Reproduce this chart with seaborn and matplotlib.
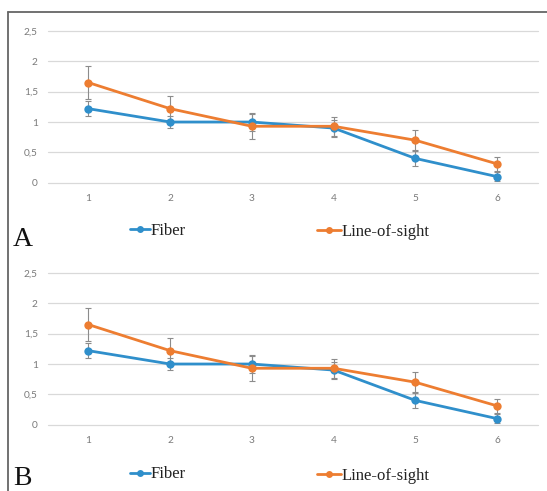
import matplotlib
matplotlib.use("Agg")
import matplotlib.pyplot as plt
from matplotlib.lines import Line2D
import seaborn as sns
import pandas as pd

# ---- data ----
positions = [1, 2, 3, 4, 5, 6]
fiber = [1.22, 1.00, 1.00, 0.90, 0.40, 0.10]
fiber_err = [0.125, 0.10, 0.15, 0.14, 0.13, 0.08]
los = [1.65, 1.22, 0.93, 0.93, 0.70, 0.31]
los_err = [0.27, 0.21, 0.21, 0.16, 0.165, 0.12]
series_names = ["Fiber", "Line-of-sight"]
ytick_vals = [0, 0.5, 1, 1.5, 2, 2.5]
ytick_labels = ["0", "0,5", "1", "1,5", "2", "2,5"]
panel_labels = ["A", "B"]

colors = {"Fiber": "#2F8FCB", "Line-of-sight": "#ED7D31"}

df = pd.DataFrame({
    "x": positions * 2,
    "value": fiber + los,
    "series": [series_names[0]] * len(positions) + [series_names[1]] * len(positions),
})
errs = {"Fiber": fiber_err, "Line-of-sight": los_err}

sns.set_style("white")
W, H = 547, 491
fig = plt.figure(figsize=(W / 100, H / 100), dpi=100)

axes_specs = [(31, 182.7), (273, 424.7)]   # pixel y of top / bottom of each plot area
legend_y = [230.5, 474.5]
letter_base = [246, 485]
left_px, right_px = 47.5, 538

for i, (top, bot) in enumerate(axes_specs):
    ax = fig.add_axes([left_px / W, 1 - bot / H, (right_px - left_px) / W, (bot - top) / H])
    for s in series_names:
        sub = df[df["series"] == s]
        ax.errorbar(sub["x"], sub["value"], yerr=errs[s], fmt="none",
                    ecolor="#8C8C8C", elinewidth=0.8, capsize=2.5, capthick=0.8, zorder=2)
    sns.lineplot(data=df, x="x", y="value", hue="series", palette=colors,
                 marker="o", markersize=6, markeredgewidth=0, linewidth=2.0,
                 legend=False, ax=ax, zorder=3)
    ax.set_xlim(0.5, 6.5)
    ax.set_ylim(0, 2.5)
    ax.set_xticks(positions)
    ax.set_xticklabels([str(p) for p in positions])
    ax.set_yticks(ytick_vals)
    ax.set_yticklabels(ytick_labels)
    ax.set_xlabel("")
    ax.set_ylabel("")
    for sp in ax.spines.values():
        sp.set_visible(False)
    ax.grid(axis="y", color="#D9D9D9", linewidth=0.9)
    ax.grid(axis="x", visible=False)
    for gl in ax.get_ygridlines():
        gl.set_clip_on(False)
    ax.set_axisbelow(True)
    ax.tick_params(axis="both", length=0, labelsize=7.3, labelcolor="#7A7A7A")
    ax.tick_params(axis="x", pad=8)
    ax.tick_params(axis="y", pad=7)
    for lab in ax.get_xticklabels() + ax.get_yticklabels():
        lab.set_fontfamily("Lato")

    # legends
    prop = {"family": "Liberation Serif", "size": 12}
    h1 = Line2D([], [], color=colors["Fiber"], lw=2.0, marker="o", markersize=5, markeredgewidth=0)
    h2 = Line2D([], [], color=colors["Line-of-sight"], lw=2.0, marker="o", markersize=5, markeredgewidth=0)
    leg1 = ax.legend(handles=[h1], labels=[series_names[0]], loc="center left",
                     bbox_to_anchor=(130 / W, 1 - legend_y[i] / H), bbox_transform=fig.transFigure,
                     frameon=False, borderpad=0, borderaxespad=0, handlelength=1.2,
                     handletextpad=0.05, prop=prop)
    for t in leg1.get_texts():
        t.set_color("#222222")
    ax.add_artist(leg1)
    leg2 = ax.legend(handles=[h2], labels=[series_names[1]], loc="center left",
                     bbox_to_anchor=(316.5 / W, 1 - (legend_y[i] + 1) / H), bbox_transform=fig.transFigure,
                     frameon=False, borderpad=0, borderaxespad=0, handlelength=1.45,
                     handletextpad=0.05, prop=prop)
    for t in leg2.get_texts():
        t.set_color("#222222")

    fig.text(13 / W, 1 - letter_base[i] / H, panel_labels[i], fontsize=20,
             family="Liberation Serif", va="baseline", ha="left", color="#111111")

# frame lines (top and left)
fig.add_artist(Line2D([8 / W, 1], [1 - 12 / H, 1 - 12 / H], transform=fig.transFigure,
                      color="#666666", lw=1.3))
fig.add_artist(Line2D([8 / W, 8 / W], [0, 1 - 12 / H], transform=fig.transFigure,
                      color="#666666", lw=1.3))

fig.savefig("out.png", dpi=100)
